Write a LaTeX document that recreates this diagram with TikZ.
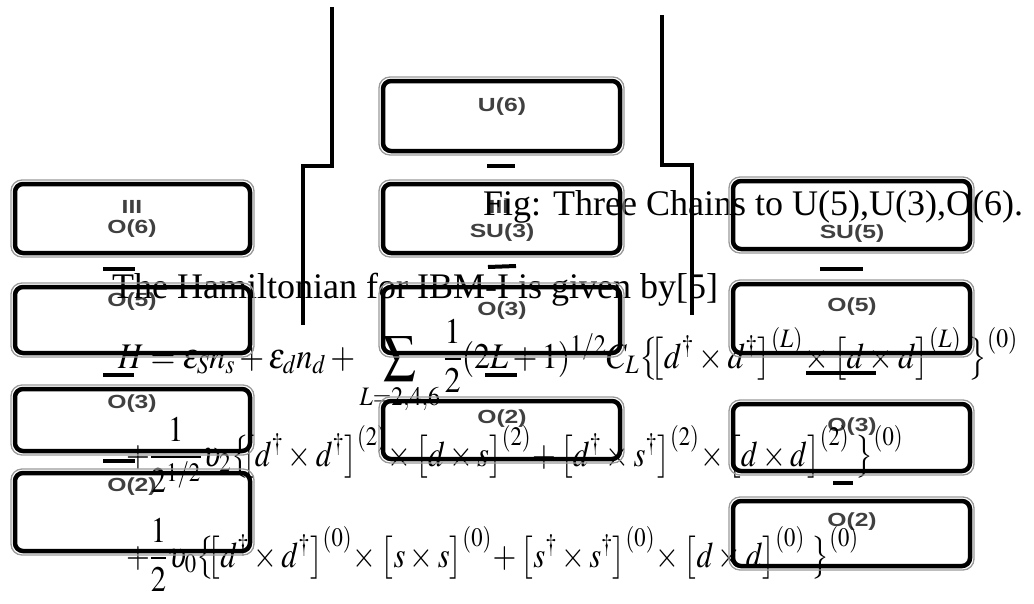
\documentclass[tikz,border=0pt]{standalone}
\usepackage{amsmath}
\usepackage{mathptmx}
\usepackage[no-math]{fontspec}
\setmainfont{Liberation Serif}
\newfontfamily\lsans{Liberation Sans}
\usepackage{graphicx}
\newcommand\glab[1]{\scalebox{1.3}[1]{#1}}
\begin{document}
\begin{tikzpicture}[x=1pt,y=-1pt,
  box/.style={draw=black, line width=4.5pt, rounded corners=8pt, inner sep=0pt, outer sep=0pt},
  halo/.style={draw=black!40, line width=1.3pt, rounded corners=11pt},
  grp/.style={font=\lsans\bfseries\fontsize{19}{19}\selectfont, text=black!75, inner sep=0pt},
  bar/.style={line width=4pt},
  chain/.style={line width=3.5pt},
  txt/.style={font=\fontsize{36}{40}\selectfont, inner sep=0pt, anchor=base west}]
\useasboundingbox (0,0) rectangle (1034,603);

% group labels
\node[grp] (l1a) at (132,207) {\glab{III}};
\node[grp] (l1b) at (132,229) {\glab{O(6)}};
\node[grp] (l2a) at (132,302) {\glab{O(5)}};
\node[grp] (l3a) at (132,404) {\glab{O(3)}};
\node[grp] (l4a) at (132,487) {\glab{O(2)}};
\node[grp] (m1a) at (502,107) {\glab{U(6)}};
\node[grp] (m2a) at (499,207) {\glab{III}};
\node[grp] (m2b) at (502,233) {\glab{SU(3)}};
\node[grp] (m3a) at (502,311) {\glab{O(3)}};
\node[grp] (m4a) at (502,419) {\glab{O(2)}};
\node[grp] (r1a) at (852,234) {\glab{SU(5)}};
\node[grp] (r2a) at (852,307) {\glab{O(5)}};
\node[grp] (r3a) at (852,427) {\glab{O(3)}};
\node[grp] (r4a) at (852,522) {\glab{O(2)}};

% texts
\node[txt] (cap) at (483,215) {Fig: Three Chains to U(5),U(3),O(6).};
\node[txt] (ham) at (112,298) {The Hamiltonian for IBM-I is given by[5]};
\node[txt] (eq1) at (118,368) {\scalebox{0.89}[1]{$\displaystyle H=\varepsilon_S n_s+\varepsilon_d n_d+\sum_{L=2,4,6}\frac{1}{2}(2L+1)^{1/2}C_L\bigl\{\!\!\bigl[d^\dagger\times d^\dagger\bigr]^{(L)}\!\times\bigl[d\times d\bigr]^{(L)}\;\bigr\}^{(0)}$}};
\node[txt] (eq2) at (126,466) {\scalebox{0.85}[1]{$\displaystyle +\frac{1}{2^{1/2}}\upsilon_2\bigl\{\!\!\bigl[d^\dagger\times d^\dagger\bigr]^{(2)}\!\times\bigl[d\times s\bigr]^{(2)}\!+\bigl[d^\dagger\times s^\dagger\bigr]^{(2)}\!\times\bigl[d\times d\bigr]^{(2)}\;\bigr\}^{(0)}$}};
\node[txt] (eq3) at (126,567) {\scalebox{0.85}[1]{$\displaystyle +\frac{1}{2}\upsilon_0\bigl\{\!\!\bigl[d^\dagger\times d^\dagger\bigr]^{(0)}\!\times\bigl[s\times s\bigr]^{(0)}\!+\bigl[s^\dagger\times s^\dagger\bigr]^{(0)}\!\times\bigl[d\times d\bigr]^{(0)}\;\bigr\}^{(0)}$}};

% boxes
\node[box, minimum width=235pt, minimum height=69pt] (L1) at (132.5,218.5) {};
\node[box, minimum width=235pt, minimum height=66pt] (L2) at (132.5,320) {};
\node[box, minimum width=235pt, minimum height=62pt] (L3) at (132.5,420) {};
\node[box, minimum width=235pt, minimum height=78pt] (L4) at (132.5,512) {};
\node[box, minimum width=237pt, minimum height=70pt] (M1) at (501.5,116) {};
\node[box, minimum width=237pt, minimum height=69pt] (M2) at (501.5,218.5) {};
\node[box, minimum width=237pt, minimum height=66pt] (M3) at (501.5,320) {};
\node[box, minimum width=237pt, minimum height=58pt] (M4) at (501.5,430) {};
\node[box, minimum width=237pt, minimum height=68pt] (R1) at (851.5,215) {};
\node[box, minimum width=237pt, minimum height=69pt] (R2) at (851.5,318.5) {};
\node[box, minimum width=237pt, minimum height=67pt] (R3) at (851.5,437.5) {};
\node[box, minimum width=237pt, minimum height=65pt] (R4) at (851.5,533.5) {};
\foreach \n in {L1,L2,L3,L4,M1,M2,M3,M4,R1,R2,R3,R4}
  \draw[halo] ([shift={(-4pt,-4pt)}]\n.south west) rectangle ([shift={(4pt,4pt)}]\n.north east);

% bars between levels
\draw[bar] (103,269) -- (135,269);
\draw[bar] (103,375) -- (134,375);
\draw[bar] (103,461) -- (135,461);
\draw[bar] (487,166) -- (515,166);
\draw[bar] (488,267) -- (516,266);
\draw[bar] (485,375) -- (517,375);
\draw[bar] (820,269) -- (863,269);
\draw[bar] (806,373) -- (876,373);
\draw[bar] (833,483) -- (853,483);

% chain brackets
\coordinate (ltop) at (332,7);
\coordinate (lbot) at (303,325);
\coordinate (rtop) at (662,15);
\coordinate (rbot) at (692,315);
\draw[chain] (ltop) -- (332,166) -- (303,166) -- (lbot);
\draw[chain] (rtop) -- (662,165) -- (692,165) -- (rbot);
\end{tikzpicture}
\end{document}
